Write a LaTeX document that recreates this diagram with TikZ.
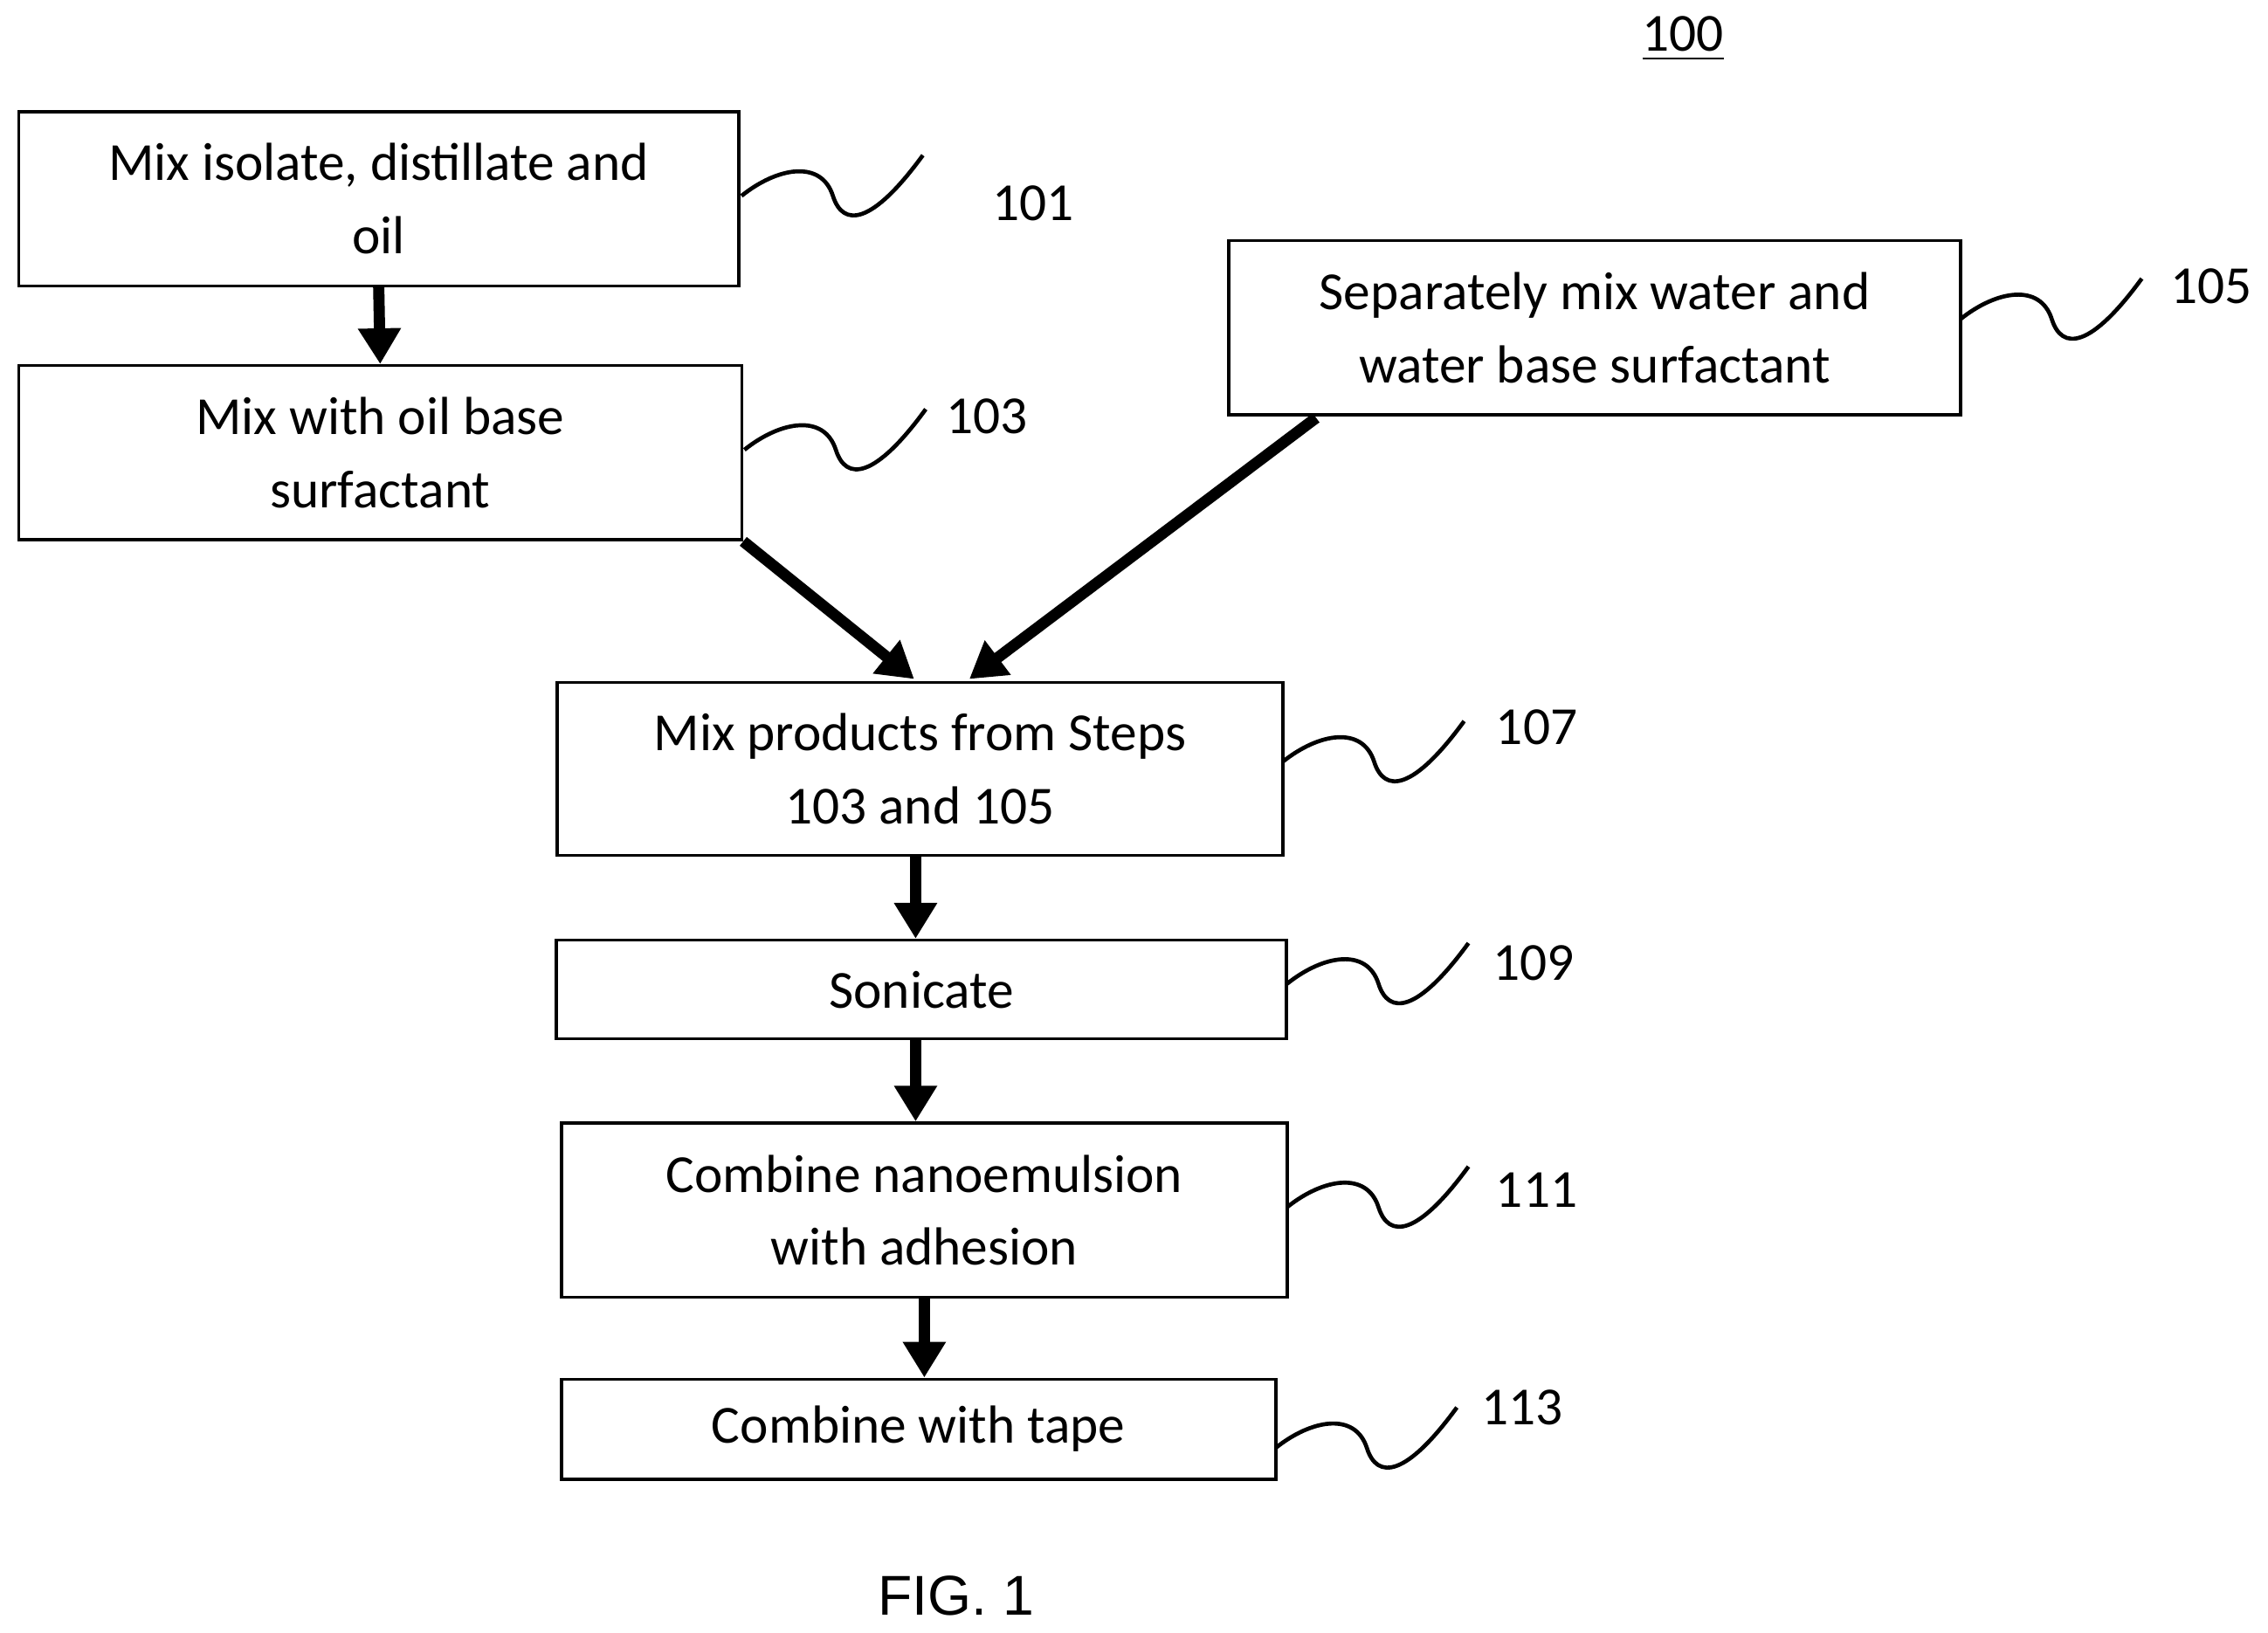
\documentclass[tikz,border=0pt]{standalone}
\usepackage{fontspec}
\setmainfont{Carlito}
\newfontfamily\figfont{Liberation Sans}
\usetikzlibrary{arrows.meta}
\begin{document}
\begin{tikzpicture}[x=0.01cm,y=-0.01cm,
 box/.style={draw,line width=0.6pt,inner sep=0pt,align=center,font=\fontsize{10.5}{14.3}\selectfont},
 lab/.style={font=\fontsize{10.5}{13}\selectfont},
 arr/.style={line width=2.2pt,-{Triangle[length=7pt,width=8pt]}},
 sq/.style={line width=0.8pt}]
\useasboundingbox (0,0) rectangle (1563,1125);
\node[box,minimum width=496\pgflinewidth/0.6*0.01cm*0+4.96cm,minimum height=1.2cm] (b101) at (261,137) {Mix isolate, distillate and\\oil};
\node[box,minimum width=4.98cm,minimum height=1.2cm] (b103) at (262,312) {Mix with oil base\\surfactant};
\node[box,minimum width=5.04cm,minimum height=1.2cm] (b105) at (1099,226) {Separately mix water and\\water base surfactant};
\node[box,minimum width=5.0cm,minimum height=1.19cm] (b107) at (634,530) {Mix products from Steps\\103 and 105};
\node[box,minimum width=5.03cm,minimum height=0.68cm] (b109) at (635,682) {Sonicate};
\node[box,minimum width=5.0cm,minimum height=1.2cm] (b111) at (637,834) {Combine nanoemulsion\\with adhesion};
\node[box,minimum width=4.92cm,minimum height=0.69cm] (b113) at (633,985) {Combine with tape};
\node[lab] (l100) at (1160,27) {\underline{100}};
\node[lab] (l101) at (712,140) {101};
\node[lab] (l103) at (680,287) {103};
\node[lab] (l105) at (1524,197) {105};
\node[lab] (l107) at (1059,501) {107};
\node[lab] (l109) at (1057,664) {109};
\node[lab] (l111) at (1059,820) {111};
\node[lab] (l113) at (1049,970) {113};
\node[font=\figfont\fontsize{11}{13}\selectfont] (fig) at (659,1100) {FIG. 1};
\tikzset{squig/.pic={\draw[sq] (0,0) .. controls (25,-20) and (55,-25) .. (63,0) .. controls (70,22) and (90,20) .. (125,-28);}}
\pic at (511,135) {squig};
\pic at (513,310) {squig};
\pic at (1351,220) {squig};
\pic at (884,525) {squig};
\pic at (887,678) {squig};
\pic at (887,832) {squig};
\pic at (879,998) {squig};
\coordinate (t107a) at (630,468);
\coordinate (t107b) at (668,468);
\draw[arr] (b101.south) -- (b103.north);
\draw[arr] (b103.south east) -- (t107a);
\draw[arr] (907,288) -- (t107b);
\draw[arr] (b107.south -| 631,0) -- (b109.north -| 631,0);
\draw[arr] (b109.south -| 631,0) -- (b111.north -| 631,0);
\draw[arr] (b111.south -| 637,0) -- (b113.north -| 637,0);
\end{tikzpicture}
\end{document}
